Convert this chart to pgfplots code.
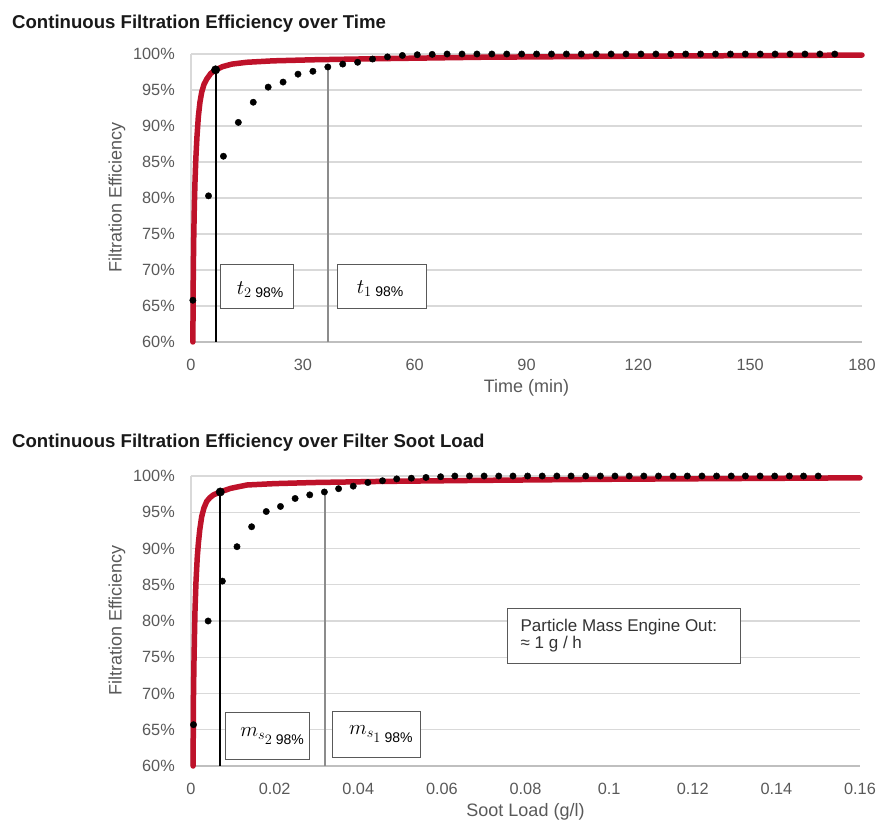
\documentclass[border=0pt]{standalone}
\usepackage{fontspec}
\setmainfont{Liberation Sans}
\usepackage{pgfplots}
\pgfplotsset{compat=1.18}

\definecolor{fered}{RGB}{190,18,42}
\definecolor{txtgray}{RGB}{89,89,89}
\definecolor{gridgray}{RGB}{217,217,217}
\definecolor{axgray}{RGB}{191,191,191}
\definecolor{vgray}{RGB}{140,140,140}

\newcommand{\ticksize}{\fontsize{16.3}{18}\selectfont}
\newcommand{\labsize}{\fontsize{18}{20}\selectfont}
\newcommand{\titsize}{\fontsize{18.6}{21}\selectfont}
\newcommand{\mathsize}{\fontsize{20}{24}\selectfont}

\tikzset{
  tbox/.style={draw=txtgray, fill=white, line width=1pt, inner sep=0pt},
  mtxt/.style={anchor=base west, inner sep=0pt, font=\mathsize},
}

\pgfplotsset{
  fecommon/.style={
    scale only axis, clip=false,
    ymin=60, ymax=100,
    ytick={60,65,70,75,80,85,90,95,100},
    yticklabels={60\%,65\%,70\%,75\%,80\%,85\%,90\%,95\%,100\%},
    axis x line*=bottom, axis y line*=left,
    x axis line style={-, draw=axgray, line width=1.2pt},
    y axis line style={-, draw=gridgray, line width=1.2pt},
    major tick length=0pt,
    ymajorgrids, grid style={draw=gridgray, line width=1.2pt},
    tick label style={font=\ticksize, text=txtgray, inner sep=0pt},
    yticklabel style={anchor=east, xshift=-16pt},
    xticklabel style={anchor=north, yshift=-17pt},
    label style={font=\labsize, text=txtgray},
  },
  dots/.style={only marks, mark=*, mark size=3.2pt, black},
  redline/.style={fered, line width=5.5pt, line join=round, line cap=round},
}

\begin{document}
\begin{tikzpicture}
\useasboundingbox (0,0) rectangle (876pt,823pt);

\node[anchor=base west, inner sep=0pt, font=\titsize\bfseries, text=black!90] at (12pt,794.7pt)
  {Continuous Filtration Efficiency over Time};
\node[anchor=base west, inner sep=0pt, font=\titsize\bfseries, text=black!90] at (12pt,375.7pt)
  {Continuous Filtration Efficiency over Filter Soot Load};

% ---- top: over time ----
\begin{axis}[fecommon,
  at={(191pt,481pt)}, anchor=south west,
  width=671pt, height=288pt,
  xmin=0, xmax=180, xtick={0,30,60,90,120,150,180},
  xticklabels={0,30,60,90,120,150,180},
  xlabel={Time (min)}, ylabel={Filtration Efficiency},
  xlabel style={at={(axis description cs:0.5,-0.16)}, anchor=center},
  ylabel style={at={(axis description cs:-0.1103,0.502)}, anchor=center},
]
\addplot[redline] coordinates {
  (0.5,60) (0.55,64) (0.62,70) (0.75,75) (0.9,79) (1.07,82.2) (1.3,85.5)
  (1.6,88.5) (1.97,91.3) (2.4,93.3) (2.87,94.7) (3.5,95.8) (4.2,96.5)
  (5.3,97.3) (6.6,97.8) (8.5,98.25) (11,98.6) (15,98.85) (22,99.05)
  (33,99.2) (50,99.35) (78,99.55) (120,99.7) (180,99.85)};
\addplot[dots] coordinates {
  (0.5,65.8) (4.7,80.3) (8.7,85.8) (12.7,90.5) (16.7,93.3) (20.7,95.4)
  (24.7,96.1) (28.7,97.2) (32.7,97.6) (36.7,98.2) (40.7,98.6) (44.7,98.85)
  (48.7,99.3) (52.7,99.6) (56.7,99.8) (60.7,99.9) (64.7,99.95) (68.7,100)
  (72.7,100) (76.7,100) (80.7,100) (84.7,100) (88.7,100) (92.7,100)
  (96.7,100) (100.7,100) (104.7,100) (108.7,100) (112.7,100) (116.7,100)
  (120.7,100) (124.7,100) (128.7,100) (132.7,100) (136.7,100) (140.7,100)
  (144.7,100) (148.7,100) (152.7,100) (156.7,100) (160.7,100) (164.7,100)
  (168.7,100) (172.7,100)};
\addplot[black, line width=2pt] coordinates {(6.6,60) (6.6,97.8)};
\addplot[vgray, line width=2.2pt] coordinates {(36.7,60) (36.7,98.2)};
\addplot[only marks, mark=*, mark size=4.2pt, black] coordinates {(6.6,97.8)};
\node[tbox, minimum width=73pt, minimum height=44pt] at (axis cs:17.8,67.65) {};
\node[mtxt] at (axis cs:12.26,66.55) {$t_{2\;\mathrm{98\%}}$};
\node[tbox, minimum width=89pt, minimum height=44pt] at (axis cs:51.3,67.65) {};
\node[mtxt] at (axis cs:44.45,66.8) {$t_{1\;\mathrm{98\%}}$};
\end{axis}

% ---- bottom: over soot load ----
\begin{axis}[fecommon,
  at={(191pt,57pt)}, anchor=south west,
  width=669pt, height=290pt,
  xmin=0, xmax=0.16, xtick={0,0.02,0.04,0.06,0.08,0.1,0.12,0.14,0.16},
  xticklabels={0,0.02,0.04,0.06,0.08,0.1,0.12,0.14,0.16},
  xlabel={Soot Load (g/l)}, ylabel={Filtration Efficiency},
  xlabel style={at={(axis description cs:0.5,-0.159)}, anchor=center},
  ylabel style={at={(axis description cs:-0.1106,0.502)}, anchor=center},
]
\addplot[redline] coordinates {
  (0.0005,60) (0.00055,65) (0.0006,70) (0.0007,74) (0.00083,78) (0.00096,81.5)
  (0.0012,85.5) (0.0015,88.8) (0.00176,90.7) (0.0021,92.6) (0.00256,94.4)
  (0.0031,95.6) (0.00376,96.5) (0.0045,97.0) (0.00536,97.4) (0.007,97.8)
  (0.0095,98.3) (0.0134,98.76) (0.02,98.95) (0.0294,99.1) (0.045,99.25)
  (0.0694,99.4) (0.1,99.55) (0.13,99.65) (0.16,99.75)};
\addplot[dots] coordinates {
  (0.0006,65.7) (0.0041,80.0) (0.0075,85.5) (0.0110,90.25) (0.0145,93.0)
  (0.0180,95.1) (0.0214,95.8) (0.0249,96.9) (0.0284,97.4) (0.0319,97.8)
  (0.0353,98.25) (0.0388,98.6) (0.0423,99.1) (0.0458,99.35) (0.0492,99.6)
  (0.0527,99.7) (0.0562,99.8) (0.0597,99.9) (0.0631,100) (0.0666,100)
  (0.0701,100) (0.0736,100) (0.0770,100) (0.0805,100) (0.0840,100)
  (0.0875,100) (0.0909,100) (0.0944,100) (0.0979,100) (0.1014,100)
  (0.1048,100) (0.1083,100) (0.1118,100) (0.1153,100) (0.1187,100)
  (0.1222,100) (0.1257,100) (0.1292,100) (0.1326,100) (0.1361,100)
  (0.1396,100) (0.1431,100) (0.1465,100) (0.1500,100)};
\addplot[black, line width=2pt] coordinates {(0.007,60) (0.007,97.8)};
\addplot[vgray, line width=2.2pt] coordinates {(0.032,60) (0.032,97.8)};
\addplot[only marks, mark=*, mark size=4.2pt, black] coordinates {(0.007,97.8)};
\node[tbox, minimum width=84pt, minimum height=47pt] at (axis cs:0.01829,64.17) {};
\node[mtxt] at (axis cs:0.01176,64.04) {$m_{s_{\scriptstyle 2\;\mathrm{98\%}}}$};
\node[tbox, minimum width=88pt, minimum height=46pt] at (axis cs:0.04444,64.4) {};
\node[mtxt] at (axis cs:0.03776,64.37) {$m_{s_{\scriptstyle 1\;\mathrm{98\%}}}$};
\node[tbox, minimum width=233pt, minimum height=55pt] at (axis cs:0.10353,77.96) {};
\node[anchor=base west, inner sep=0pt, text=black!80, font=\fontsize{17}{19}\selectfont] at (axis cs:0.07879,78.52) {Particle Mass Engine Out:};
\node[anchor=base west, inner sep=0pt, text=black!80, font=\fontsize{17}{19}\selectfont] at (axis cs:0.07879,76.23) {≈ 1 g / h};
\end{axis}
\end{tikzpicture}
\end{document}
